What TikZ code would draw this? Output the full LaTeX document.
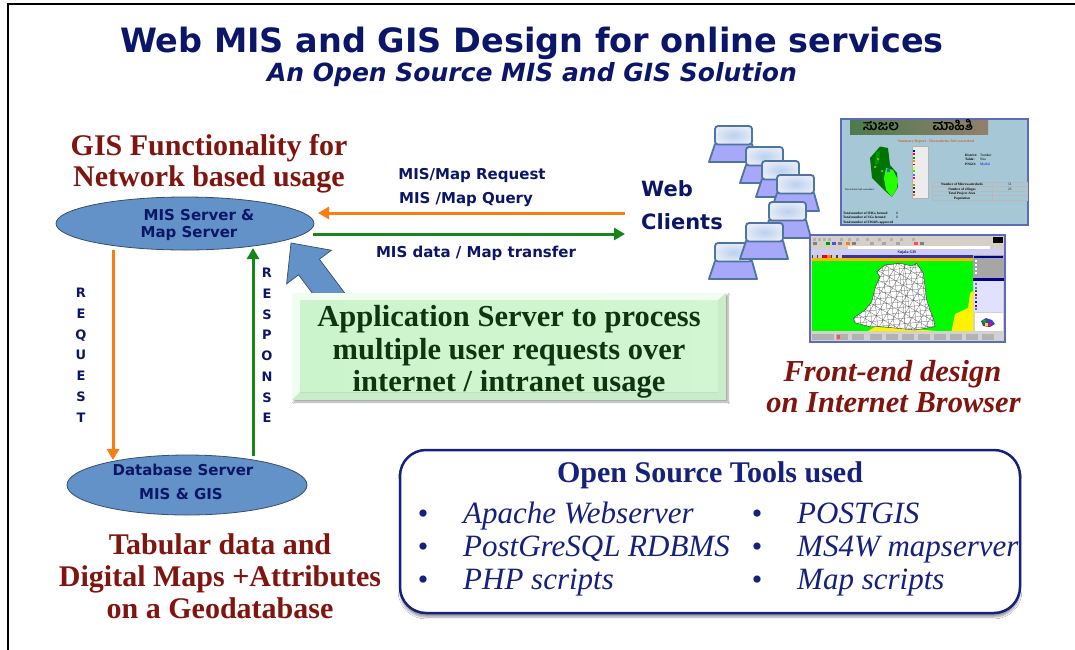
\documentclass[tikz,border=0pt]{standalone}
\usepackage{fontspec}
\setmainfont{Liberation Serif}
\newfontfamily\dv{DejaVu Sans}
\newfontfamily\kan[Script=Kannada]{Hind Mysuru}
\usetikzlibrary{shapes.geometric,arrows.meta,shadows.blur}

\definecolor{navy}{RGB}{12,22,105}
\definecolor{toolnavy}{RGB}{22,32,125}
\definecolor{maroon}{RGB}{128,20,14}
\definecolor{srvblue}{RGB}{98,146,200}
\definecolor{srvline}{RGB}{55,78,110}
\definecolor{reqorange}{RGB}{250,125,15}
\definecolor{resgreen}{RGB}{22,135,22}
\definecolor{appgreen}{RGB}{16,52,16}
\definecolor{appface}{RGB}{204,244,204}
\definecolor{apprim}{RGB}{228,252,228}
\definecolor{lapedge}{RGB}{78,116,160}
\definecolor{lapbase}{RGB}{168,168,250}
\definecolor{lapscreen}{RGB}{228,234,246}
\definecolor{lapglow}{RGB}{186,208,240}
\definecolor{shotedge}{RGB}{96,106,186}
\definecolor{shotbg}{RGB}{166,200,214}
\definecolor{mapgreen}{RGB}{0,250,0}
\definecolor{wingray}{RGB}{212,208,200}

\tikzset{
  serifhead/.style={font=\bfseries\fontsize{30}{32}\selectfont, text=maroon, anchor=base, inner sep=0pt},
  seriftool/.style={font=\itshape\fontsize{31}{33}\selectfont, text=toolnavy, anchor=base west, inner sep=0pt},
  bulletmark/.style={font=\fontsize{30}{32}\selectfont, text=toolnavy, anchor=base, inner sep=0pt},
  sanslabel/.style={font=\dv\bfseries\fontsize{15}{17}\selectfont, text=navy, anchor=base, inner sep=0pt},
  letterstack/.style={font=\dv\bfseries\fontsize{13}{15}\selectfont, text=navy, anchor=base, inner sep=0pt},
  server/.style={ellipse, draw=srvline, line width=0.8pt, fill=srvblue, inner sep=0pt},
  flow/.style={line width=3pt, -{Triangle[length=11pt,width=12pt]}},
  tiny/.style={font=\fontsize{3.6}{4}\selectfont, inner sep=0pt, anchor=base west},
  laptop/.pic={
    \draw[line width=1.8pt, draw=lapedge, fill=lapbase, line join=round]
      (0,18) -- (37,18) -- (42,36) -- (-6,36) -- cycle;
    \draw[line width=1.8pt, draw=lapedge, rounded corners=3pt,
      inner color=lapglow, outer color=lapscreen] (0,0) rectangle (37,18.5);
  }
}

\begin{document}
\begin{tikzpicture}[x=1pt,y=-1pt]
\useasboundingbox (0,0) rectangle (1075,649);
\fill[white] (0,0) rectangle (1075,649);

% slide frame
\draw[line width=2.4pt] (8,660) -- (8,4) -- (1085,4);

% titles
\node[font=\dv\bfseries\fontsize{33.5}{36}\selectfont, text=navy, anchor=base, inner sep=0pt]
  (title) at (532,52) {Web MIS and GIS Design for online services};
\node[font=\dv\bfseries\itshape\fontsize{25}{28}\selectfont, text=navy, anchor=base, inner sep=0pt]
  (subtitle) at (532,81) {An Open Source MIS and GIS Solution};

% GIS functionality heading
\node[serifhead] (gis1) at (209,155) {GIS Functionality for};
\node[serifhead] (gis2) at (209,186) {Network based usage};

% block arrow from the application server up to the map server
\fill[srvblue, draw=srvline, line width=0.7pt, line join=miter]
  (291,243) -- (331.4,250.2) -- (319.4,259.2) -- (349.4,299.2)
  -- (328.6,314.8) -- (298.6,274.8) -- (286.6,283.8) -- cycle;

% servers
\node[server, minimum width=258pt, minimum height=53pt] (mis) at (185,223.5) {};
\node[sanslabel] (mis1) at (199,220) {MIS Server \&};
\node[sanslabel] (mis2) at (189,237.5) {Map Server};

\node[server, minimum width=240pt, minimum height=60pt] (db) at (187,485) {};
\node[sanslabel] (db1) at (183,475) {Database Server};
\node[sanslabel] (db2) at (181,499) {MIS \& GIS};

% web clients
\node[font=\dv\bfseries\fontsize{21}{24}\selectfont, text=navy, anchor=base west, inner sep=0pt]
  (web) at (641,196.5) {Web};
\node[font=\dv\bfseries\fontsize{21}{24}\selectfont, text=navy, anchor=base west, inner sep=0pt]
  (clients) at (641,229.5) {Clients};

% request / response between clients and map server
\coordinate (qin)  at (625,213);
\coordinate (qend) at (318,213);
\coordinate (rout) at (313,234);
\coordinate (rend) at (625,234);
\draw[flow, reqorange] (qin) -- (qend);
\draw[flow, resgreen] (rout) -- (rend);
\node[sanslabel] (lbl1) at (472,179.5) {MIS/Map Request};
\node[sanslabel] (lbl2) at (466,203.5) {MIS /Map Query};
\node[sanslabel] (lbl3) at (476,257.5) {MIS data / Map transfer};

% request / response between map server and database
\coordinate (dq0) at (113,250);
\coordinate (dq1) at (113,460);
\coordinate (dr0) at (253,456);
\coordinate (dr1) at (253,248);
\draw[flow, reqorange] (dq0) -- (dq1);
\draw[flow, resgreen] (dr0) -- (dr1);
\foreach \ch [count=\i] in {R,E,Q,U,E,S,T}
  \node[letterstack] (req\i) at (81,{297.8+(\i-1)*20.7}) {\ch};
\foreach \ch [count=\i] in {R,E,S,P,O,N,S,E}
  \node[letterstack] (res\i) at (267,{277.8+(\i-1)*20.7}) {\ch};

% application server box
\fill[apprim, blur shadow={shadow xshift=2pt, shadow yshift=-2pt, shadow blur steps=6, shadow opacity=35}]
  (292,293) rectangle (726,400);
\shade[left color=appface, right color=appface!80!apprim] (300,300) rectangle (718,392);
\fill[white, opacity=0.45] (292,293) -- (726,293) -- (718,300) -- (300,300) -- (300,392) -- (292,400) -- cycle;
\fill[green!30!gray, opacity=0.18] (726,293) -- (726,400) -- (292,400) -- (300,392) -- (718,392) -- (718,300) -- cycle;
\node[font=\bfseries\fontsize{30.5}{32}\selectfont, text=appgreen, anchor=base, inner sep=0pt]
  (app1) at (509,326) {Application Server to process};
\node[font=\bfseries\fontsize{30.5}{32}\selectfont, text=appgreen, anchor=base, inner sep=0pt]
  (app2) at (509,359) {multiple user requests over};
\node[font=\bfseries\fontsize{30.5}{32}\selectfont, text=appgreen, anchor=base, inner sep=0pt]
  (app3) at (509,391) {internet / intranet usage};

% client laptops
\pic at (715,126) {laptop};
\pic at (746,147) {laptop};
\pic at (762,161) {laptop};
\pic at (777,175) {laptop};
\pic at (769,202) {laptop};
\pic at (715,243) {laptop};
\pic at (746,223) {laptop};

% screenshot: summary report page
\draw[line width=1.3pt, draw=shotedge, fill=shotbg] (841,119) rectangle (1028,225);
\shade[left color=black!55!green!40!gray, right color=gray!70!brown] (850,120) rectangle (988,134.5);
\node[font=\kan\bfseries\fontsize{14}{14}\selectfont, text=black, anchor=base, inner sep=0pt] (kn1) at (881,130) {ಸುಜಲ};
\node[font=\kan\bfseries\fontsize{14}{14}\selectfont, text=black, anchor=base, inner sep=0pt] (kn2) at (953,130) {ಮಾಹಿತಿ};
\node[font=\bfseries\fontsize{3.8}{4}\selectfont, text=brown!80!red, anchor=base, inner sep=0pt]
  (sumttl) at (936,142.5) {Summary Report - Devarabetta Sub watershed};
\fill[green!45!black] (880,146.5) -- (888,148) -- (890,165) -- (897,173) -- (898,187)
  -- (892,197) -- (884,190) -- (872,178) -- (870,158) -- cycle;
\fill[green!80!lime] (886,168) -- (893,170) -- (898,180) -- (897,188) -- (892,197) -- (886,190) -- (884,178) -- cycle;
\fill[black!40!green] (876,152) -- (880,151) -- (879,163) -- (875,165) -- cycle;
\fill[brown!60!green] (877,158) rectangle (879,160) (881,170) rectangle (883,172) (874,166) rectangle (876,168);
\fill[blue!70] (887,169) rectangle (890,172);
\node[tiny, font=\fontsize{2.6}{3}\selectfont] (mapcap) at (845,190) {Devarabetta Sub watershed};
\fill[gray!15] (912,146) rectangle (928,198);
\draw[gray!60, line width=0.3pt] (912,146) rectangle (928,198);
\foreach \c [count=\i] in {blue,red,green!60!black,orange,red!70!black,yellow,green,cyan!60!black,magenta,yellow!80!orange,brown,green!40!black,violet,orange!80!red}
  \fill[\c] (913,{150+(\i-1)*3.4}) rectangle (915,{151.8+(\i-1)*3.4});
\node[tiny, font=\bfseries\fontsize{3.4}{4}\selectfont] (dist) at (965,156) {District:};
\node[tiny] (distv) at (980,156) {Tumkur};
\node[tiny, font=\bfseries\fontsize{3.4}{4}\selectfont] (tal) at (965,160.5) {Taluk:};
\node[tiny] (talv) at (980,160.5) {Sira};
\node[tiny, font=\bfseries\fontsize{3.4}{4}\selectfont] (png) at (965,165) {PNGO:};
\node[tiny, text=blue] (pngv) at (980,165) {Mythri};
\draw[gray!55, line width=0.3pt] (932,182) rectangle (1027,200);
\draw[gray!55, line width=0.3pt] (932,186.5) -- (1027,186.5) (932,191) -- (1027,191)
  (932,195.5) -- (1027,195.5) (992,182) -- (992,200);
\node[tiny, font=\bfseries\fontsize{3.4}{4}\selectfont, anchor=base] (tb1) at (962,185.5) {Number of Microwatersheds};
\node[tiny, font=\bfseries\fontsize{3.4}{4}\selectfont, anchor=base] (tb2) at (962,190) {Number of villages};
\node[tiny, font=\bfseries\fontsize{3.4}{4}\selectfont, anchor=base] (tb3) at (962,194.5) {Total Project Area};
\node[tiny, font=\bfseries\fontsize{3.4}{4}\selectfont, anchor=base] (tb4) at (962,199) {Population};
\node[tiny] (tv1) at (1008,185.5) {11};
\node[tiny] (tv2) at (1008,190) {21};
\node[tiny, font=\bfseries\fontsize{3.4}{4}\selectfont] (bt1) at (843,214) {Total number of SHGs formed};
\node[tiny] (bv1) at (896,214) {0};
\node[tiny, font=\bfseries\fontsize{3.4}{4}\selectfont] (bt2) at (843,218.5) {Total number of UGs formed};
\node[tiny] (bv2) at (896,218.5) {0};
\node[tiny, font=\bfseries\fontsize{3.4}{4}\selectfont] (bt3) at (843,223) {Total number of EWAPs approved};

% screenshot: map browser window
\draw[line width=1.3pt, draw=shotedge, fill=wingray] (810,235) rectangle (1005,342);
\foreach \x in {813,818,823,828,840,848,856,866,878,890,900,912}
  \fill[gray!60] (\x,238) rectangle ({\x+3},240.5);
\foreach \x/\c in {813/gray,826/green!60!black,832/blue!70,838/gray,846/orange,852/gray,870/gray!70,882/gray!70,896/gray!70,914/red!70,920/gray}
  \fill[\c] (\x,242) rectangle ({\x+4},245);
\fill[white] (848,246) rectangle (990,249);
\fill[black] (993,237) rectangle (1003,243);
\fill[blue!20!white] (811,249.5) rectangle (1004,254);
\node[font=\bfseries\fontsize{4}{4}\selectfont, text=navy, anchor=base, inner sep=0pt] (sgis) at (907,253.3) {Sujala GIS};
\fill[blue!55!black!80] (812,254.5) rectangle (973,258);
\foreach \x/\c in {813/gray!40,818/gray!40,823/red,827/orange,832/gray!40,838/gray!40}
  \fill[\c] (\x,255) rectangle ({\x+3.5},257.5);
\fill[orange!60!yellow] (812,258) rectangle (973,261);
\fill[mapgreen] (812,261) rectangle (973,331);
\fill[yellow] (868,331) -- (875,327) -- (915,329) -- (936,331) -- cycle;
\fill[yellow] (951.5,331) -- (955,314) -- (968,308) -- (970,293) -- (973,291) -- (973,331) -- cycle;
\begin{scope}
  \clip (876.7,271.7) -- (885,265) -- (900,263.3) -- (911.7,266) -- (916.7,263.3)
    -- (923.3,273.3) -- (925,286.7) -- (926.7,300) -- (930,310) -- (933.3,318.3)
    -- (935,326.7) -- (915,330) -- (881.7,326.7) -- (870,326.7) -- (855,322.7)
    -- (853.3,318.3) -- (865,310) -- (871.7,301.7) -- (875,288.3) -- (880,276.7) -- cycle;
  \fill[white] (850,260) rectangle (940,332);
  \draw[black!70, line width=0.2pt, rotate around={6:(895,295)}, step=5.5pt] (840,255) grid (950,340);
  \draw[black!70, line width=0.2pt, rotate around={-30:(905,300)}, step=8pt] (840,255) grid (950,340);
  \draw[black!70, line width=0.2pt] (905,262) -- (903,280) -- (906,300) -- (904,330);
\end{scope}
\draw[black!80, line width=0.4pt] (876.7,271.7) -- (885,265) -- (900,263.3) -- (911.7,266) -- (916.7,263.3)
    -- (923.3,273.3) -- (925,286.7) -- (926.7,300) -- (930,310) -- (933.3,318.3)
    -- (935,326.7) -- (915,330) -- (881.7,326.7) -- (870,326.7) -- (855,322.7)
    -- (853.3,318.3) -- (865,310) -- (871.7,301.7) -- (875,288.3) -- (880,276.7) -- cycle;
\fill[gray!70] (973,254.5) rectangle (1004,277.5);
\fill[blue!60!black] (974,256) rectangle (1003,258);
\foreach \i in {0,1,2,3}
  \fill[white] (975,{260+\i*4}) rectangle (977,{262+\i*4});
\fill[blue!55!black] (973,278) rectangle (1004,280.5);
\fill[blue!12!white] (974,281) rectangle (1003,312);
\foreach \c [count=\i] in {blue!60,blue!60,green!50!black,red!70!black,blue!60,blue,violet,blue!60}
  \fill[\c] (975,{283+(\i-1)*3.6}) rectangle (977,{285+(\i-1)*3.6});
\fill[white] (975,313) rectangle (1003,331);
\fill[blue!50!gray] (981,321) -- (986,318) -- (992,320) -- (995,324) -- (990,327) -- (983,326) -- cycle;
\fill[magenta] (988,323) rectangle (991,325.5);
\fill[yellow!80!orange] (985,323) rectangle (987.5,325.5);
\fill[green!70!black] (983,320) rectangle (985.5,322.5);
\fill[gray!35] (811,332) rectangle (1004,341);
\foreach \x in {812,822,836,852,870,886,902,918,934,950,966,982}
  \fill[gray!60] (\x,334) rectangle ({\x+12},339.5);
\fill[red!70] (837,335) rectangle (840,338.5);

% front-end caption
\node[font=\bfseries\itshape\fontsize{30.5}{32}\selectfont, text=maroon, anchor=base, inner sep=0pt]
  (fe1) at (892.5,381) {Front-end design};
\node[font=\bfseries\itshape\fontsize{30.5}{32}\selectfont, text=maroon, anchor=base, inner sep=0pt]
  (fe2) at (893.5,412) {on Internet Browser};

% geodatabase caption
\node[serifhead] (geo1) at (220,554) {Tabular data and};
\node[serifhead] (geo2) at (220,586) {Digital Maps +Attributes};
\node[serifhead] (geo3) at (220,618) {on a Geodatabase};

% open source tools panel
\draw[rounded corners=26pt, line width=2.5pt, draw=toolnavy, fill=white,
  blur shadow={shadow xshift=0pt, shadow yshift=-4pt, shadow blur steps=6, shadow opacity=40}]
  (400,450) rectangle (1020,613);
\node[font=\bfseries\fontsize{30}{32}\selectfont, text=toolnavy, anchor=base, inner sep=0pt]
  (tools) at (710,482) {Open Source Tools used};
\foreach \t/\x/\y [count=\i] in {Apache Webserver/463/523, PostGreSQL RDBMS/463/556, PHP scripts/463/589,
                                  POSTGIS/797/523, MS4W mapserver/797/556, Map scripts/797/589} {
  \node[seriftool] (tool\i) at (\x,\y) {\t};
  \node[bulletmark] (dot\i) at ({\x-40},\y) {•};
}
\end{tikzpicture}
\end{document}
